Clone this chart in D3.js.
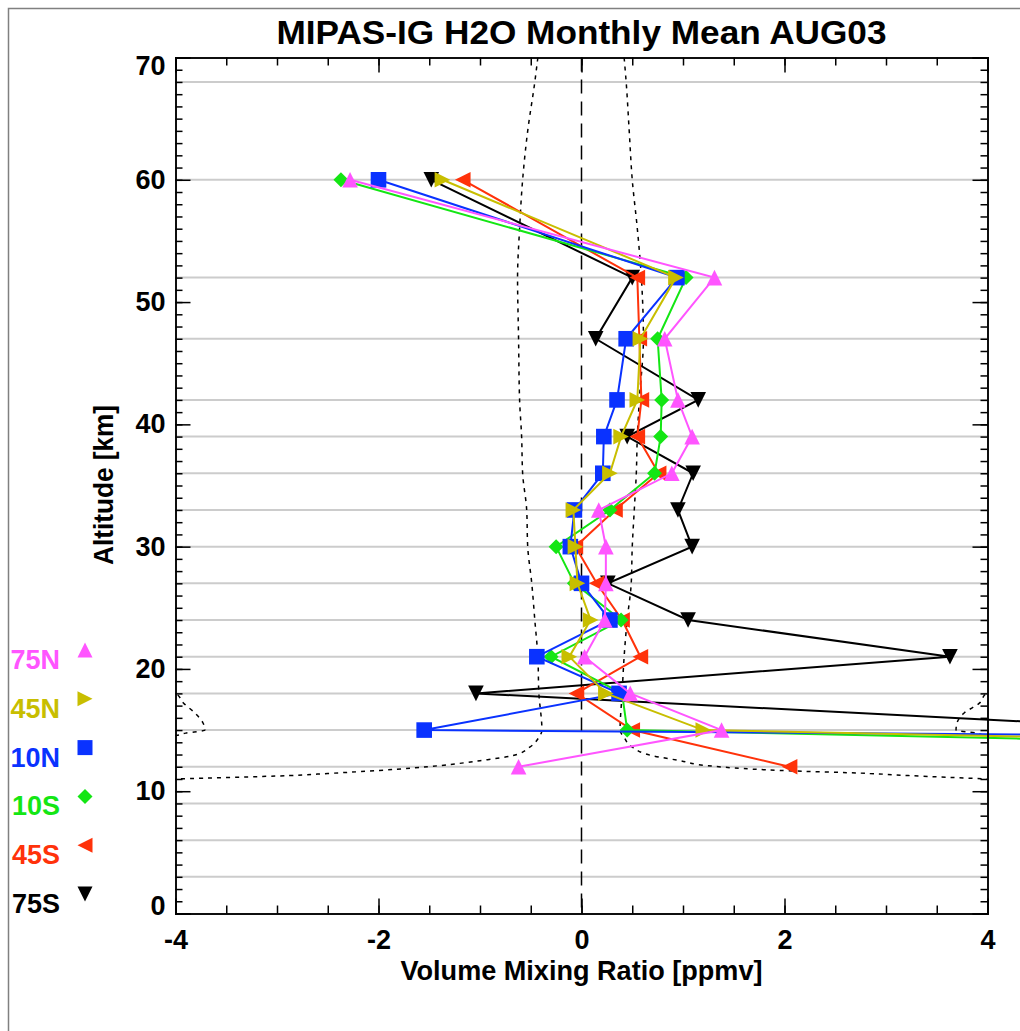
<!DOCTYPE html>
<html>
<head>
<meta charset="utf-8">
<script src="https://cdn.jsdelivr.net/npm/d3@7"></script>
<style>
    body { margin: 0; background: #fff; }
    svg { display: block; }
    text { font-family: 'Liberation Sans', Arial, Helvetica, sans-serif; font-weight: bold; }
</style>
</head>
<body>
<svg width="1020" height="1031"></svg>
<script>
/* global d3 */

// tangent altitudes [km] of the monthly mean profiles
const altitudes = [60, 52, 47, 42, 39, 36, 33, 30, 27, 24, 21, 18, 15, 12];

// volume mixing ratio [ppmv] per latitude band (null = no value)
const vmr75N = [-2.28, 1.31, 0.82, 0.95, 1.09, 0.89, 0.17, 0.24, 0.24, 0.23, 0.03, 0.48, 1.38, -0.62];
const vmr45N = [-1.37, 0.93, 0.58, 0.55, 0.39, 0.28, -0.08, -0.06, -0.04, 0.09, -0.12, 0.24, 1.20, 19];
const vmr10N = [-2.00, 0.94, 0.44, 0.35, 0.22, 0.21, -0.07, -0.11, 0.00, 0.28, -0.44, 0.37, -1.55, 47];
const vmr10S = [-2.37, 1.03, 0.75, 0.79, 0.78, 0.72, 0.28, -0.25, -0.07, 0.39, -0.30, 0.40, 0.45, 17];
const vmr45S = [-1.17, 0.55, 0.57, 0.59, 0.55, 0.76, 0.33, -0.06, 0.15, 0.40, 0.58, -0.05, 0.50, 2.05];
const vmr75S = [-1.48, 0.50, 0.14, 1.15, 0.45, 1.10, 0.95, 1.09, 0.26, 1.05, 3.63, -1.04, 6.0, null];

const bandNames = ['75N', '45N', '10N', '10S', '45S', '75S'];
const bandColors = ['#ff55ff', '#c8be00', '#0a32ff', '#14e614', '#ff320a', '#000000'];
const bandSymbols = ['up', 'right', 'square', 'diamond', 'left', 'down'];

// inner dotted envelope
const envAlt = [70, 68, 64, 60, 56, 52, 47, 42, 39, 36, 33, 30, 27, 24, 21, 18, 15, 14.4, 13.6, 12.9, 12.5, 12.1, 11.7, 11.45, 11.28, 11.0, 10.8];
const envLow = [-0.43, -0.46, -0.53, -0.58, -0.61, -0.63, -0.62, -0.61, -0.59, -0.58, -0.54, -0.53, -0.49, -0.46, -0.43, -0.42, -0.39, -0.42, -0.51, -0.68, -1.0, -1.39, -1.99, -2.5, -2.88, -4.0, -4.6];
const envHigh = [0.42, 0.44, 0.47, 0.50, 0.55, 0.59, 0.61, 0.57, 0.55, 0.54, 0.52, 0.50, 0.49, 0.45, 0.42, 0.40, 0.38, 0.42, 0.50, 0.70, 0.97, 1.23, 1.95, 2.84, 3.22, 4.0, 4.6];

// outer dotted envelope (only shows near 15-18 km)
const outerAlt = [18.6, 18, 17.2, 16.4, 15.6, 15.0, 14.75, 14.55, 14.3];
const outerLow = [-4.5, -4.0, -3.92, -3.81, -3.73, -3.71, -3.9, -4.0, -4.3];
const outerHigh = [4.5, 3.99, 3.92, 3.77, 3.70, 3.69, 3.89, 3.99, 4.3];

const gridAlts = [68, 60, 52, 47, 42, 39, 36, 33, 30, 27, 24, 21, 18, 15, 12, 9, 6, 3];

const xMajor = [-4, -2, 0, 2, 4];
const xMinor = d3.range(-4, 4.01, 0.5);
const yMajor = [0, 10, 20, 30, 40, 50, 60, 70];
const yMinor = d3.range(0, 71, 1);

const svg = d3.select('svg');
const plotLeft = 175.5, plotRight = 987.5, plotTop = 57.5, plotBottom = 913.5;

const x = d3.scaleLinear().domain([-4, 4]).range([plotLeft, plotRight]);
const y = d3.scaleLinear().domain([0, 70]).range([plotBottom, plotTop]);

const series = bandNames.map(function (name, i) {
    const vals = [vmr75N, vmr45N, vmr10N, vmr10S, vmr45S, vmr75S][i];
    return {
        name: name,
        color: bandColors[i],
        symbol: bandSymbols[i],
        points: altitudes.map((a, j) => ({alt: a, v: vals[j]})).filter(d => d.v !== null)
    };
});

// page frame
svg.append('path')
    .attr('d', 'M8.5,1031V8.5H1020')
    .attr('fill', 'none')
    .attr('stroke', '#808080')
    .attr('stroke-width', 1.5);

svg.append('text')
    .attr('x', (plotLeft + plotRight) / 2)
    .attr('y', 44)
    .attr('text-anchor', 'middle')
    .attr('font-size', 34)
    .attr('textLength', 610)
    .attr('lengthAdjust', 'spacingAndGlyphs')
    .text('MIPAS-IG H2O Monthly Mean AUG03');

svg.append('defs').append('clipPath')
    .attr('id', 'plotClip')
    .append('rect')
    .attr('x', plotLeft).attr('y', plotTop)
    .attr('width', plotRight - plotLeft).attr('height', plotBottom - plotTop);

// grid
svg.append('g')
    .selectAll('line')
    .data(gridAlts)
    .enter().append('line')
    .attr('x1', plotLeft).attr('x2', plotRight)
    .attr('y1', d => y(d)).attr('y2', d => y(d))
    .attr('stroke', '#cccccc')
    .attr('stroke-width', 2);

// envelopes
const envGroup = svg.append('g').attr('clip-path', 'url(#plotClip)');
const envLine = d3.line()
    .x(d => x(d[0]))
    .y(d => y(d[1]))
    .curve(d3.curveMonotoneY);

[[envAlt, envLow], [envAlt, envHigh], [outerAlt, outerLow], [outerAlt, outerHigh]].forEach(function (pair) {
    envGroup.append('path')
        .attr('d', envLine(pair[0].map((a, i) => [pair[1][i], a])))
        .attr('fill', 'none')
        .attr('stroke', '#000')
        .attr('stroke-width', 1.5)
        .attr('stroke-dasharray', '4,5');
});

// zero line
svg.append('line')
    .attr('x1', x(0)).attr('x2', x(0))
    .attr('y1', plotTop).attr('y2', plotBottom)
    .attr('stroke', '#000')
    .attr('stroke-width', 1.5)
    .attr('stroke-dasharray', '14,8');

function symbolPath(type, h) {
    switch (type) {
    case 'up': return `M0,${-h}L${h},${h}L${-h},${h}Z`;
    case 'down': return `M0,${h}L${h},${-h}L${-h},${-h}Z`;
    case 'left': return `M${-h},0L${h},${-h}L${h},${h}Z`;
    case 'right': return `M${h},0L${-h},${-h}L${-h},${h}Z`;
    case 'diamond': return `M0,${-h}L${h},0L0,${h}L${-h},0Z`;
    default: return `M${-h},${-h}H${h}V${h}H${-h}Z`;
    }
}

const profileLine = d3.line()
    .x(d => x(d.v))
    .y(d => y(d.alt));

// draw southern bands first, 75N ends up on top
const profiles = svg.append('g')
    .selectAll('g')
    .data(series.slice().reverse())
    .enter().append('g');

profiles.append('path')
    .attr('d', d => profileLine(d.points))
    .attr('fill', 'none')
    .attr('stroke', d => d.color)
    .attr('stroke-width', 2);

profiles.each(function (s) {
    d3.select(this).selectAll('path.mark')
        .data(s.points)
        .enter().append('path')
        .attr('class', 'mark')
        .attr('transform', d => `translate(${x(d.v)},${y(d.alt)})`)
        .attr('d', symbolPath(s.symbol, s.symbol === 'diamond' ? 7.5 : 7.8))
        .attr('fill', s.color);
});

// axes
function styleAxis(g) {
    g.select('.domain').attr('stroke', '#000').attr('stroke-width', 1.5);
    g.selectAll('.tick line').attr('stroke', '#000').attr('stroke-width', 1.5);
    g.selectAll('.tick text').attr('font-size', 27).attr('fill', '#000')
        .attr('font-family', "'Liberation Sans', Arial, sans-serif").attr('font-weight', 'bold');
}

// plain hyphen for negatives, like the original plot
const plainFormat = d => String(d);

svg.append('g')
    .attr('transform', `translate(0,${plotBottom})`)
    .call(d3.axisBottom(x).tickValues(xMinor).tickSize(-8).tickFormat(''))
    .call(styleAxis);
svg.append('g')
    .attr('transform', `translate(0,${plotBottom})`)
    .call(d3.axisBottom(x).tickValues(xMajor).tickSize(-15).tickPadding(16).tickFormat(plainFormat))
    .call(styleAxis);
svg.append('g')
    .attr('transform', `translate(0,${plotTop})`)
    .call(d3.axisTop(x).tickValues(xMinor).tickSize(-8).tickFormat(''))
    .call(styleAxis);
svg.append('g')
    .attr('transform', `translate(0,${plotTop})`)
    .call(d3.axisTop(x).tickValues(xMajor).tickSize(-15).tickFormat(''))
    .call(styleAxis);

svg.append('g')
    .attr('transform', `translate(${plotLeft},0)`)
    .call(d3.axisLeft(y).tickValues(yMinor).tickSize(-7).tickFormat(''))
    .call(styleAxis);
const yAxis = svg.append('g')
    .attr('transform', `translate(${plotLeft},0)`)
    .call(d3.axisLeft(y).tickValues(yMajor).tickSize(-15).tickPadding(10).tickFormat(plainFormat))
    .call(styleAxis);
svg.append('g')
    .attr('transform', `translate(${plotRight},0)`)
    .call(d3.axisRight(y).tickValues(yMinor).tickSize(-7).tickFormat(''))
    .call(styleAxis);
svg.append('g')
    .attr('transform', `translate(${plotRight},0)`)
    .call(d3.axisRight(y).tickValues(yMajor).tickSize(-15).tickFormat(''))
    .call(styleAxis);

// end labels sit inside the axis range
yAxis.selectAll('.tick text')
    .attr('y', d => d === 70 ? 8 : (d === 0 ? -8 : 0));

svg.append('text')
    .attr('x', (plotLeft + plotRight) / 2)
    .attr('y', 980)
    .attr('text-anchor', 'middle')
    .attr('font-size', 28)
    .attr('textLength', 362)
    .attr('lengthAdjust', 'spacingAndGlyphs')
    .text('Volume Mixing Ratio [ppmv]');

svg.append('text')
    .attr('transform', 'translate(113,485) rotate(-90)')
    .attr('text-anchor', 'middle')
    .attr('font-size', 28)
    .attr('textLength', 160)
    .attr('lengthAdjust', 'spacingAndGlyphs')
    .text('Altitude [km]');

// legend
const legend = svg.append('g')
    .selectAll('g')
    .data(series)
    .enter().append('g')
    .attr('transform', (d, i) => `translate(0,${669 + i * 48.8})`);

legend.append('text')
    .attr('x', 60)
    .attr('text-anchor', 'end')
    .attr('font-size', 27)
    .attr('fill', d => d.color)
    .text(d => d.name);

legend.append('path')
    .attr('transform', 'translate(85,-19)')
    .attr('d', d => symbolPath(d.symbol, 7.5))
    .attr('fill', d => d.color);
</script>
</body>
</html>
